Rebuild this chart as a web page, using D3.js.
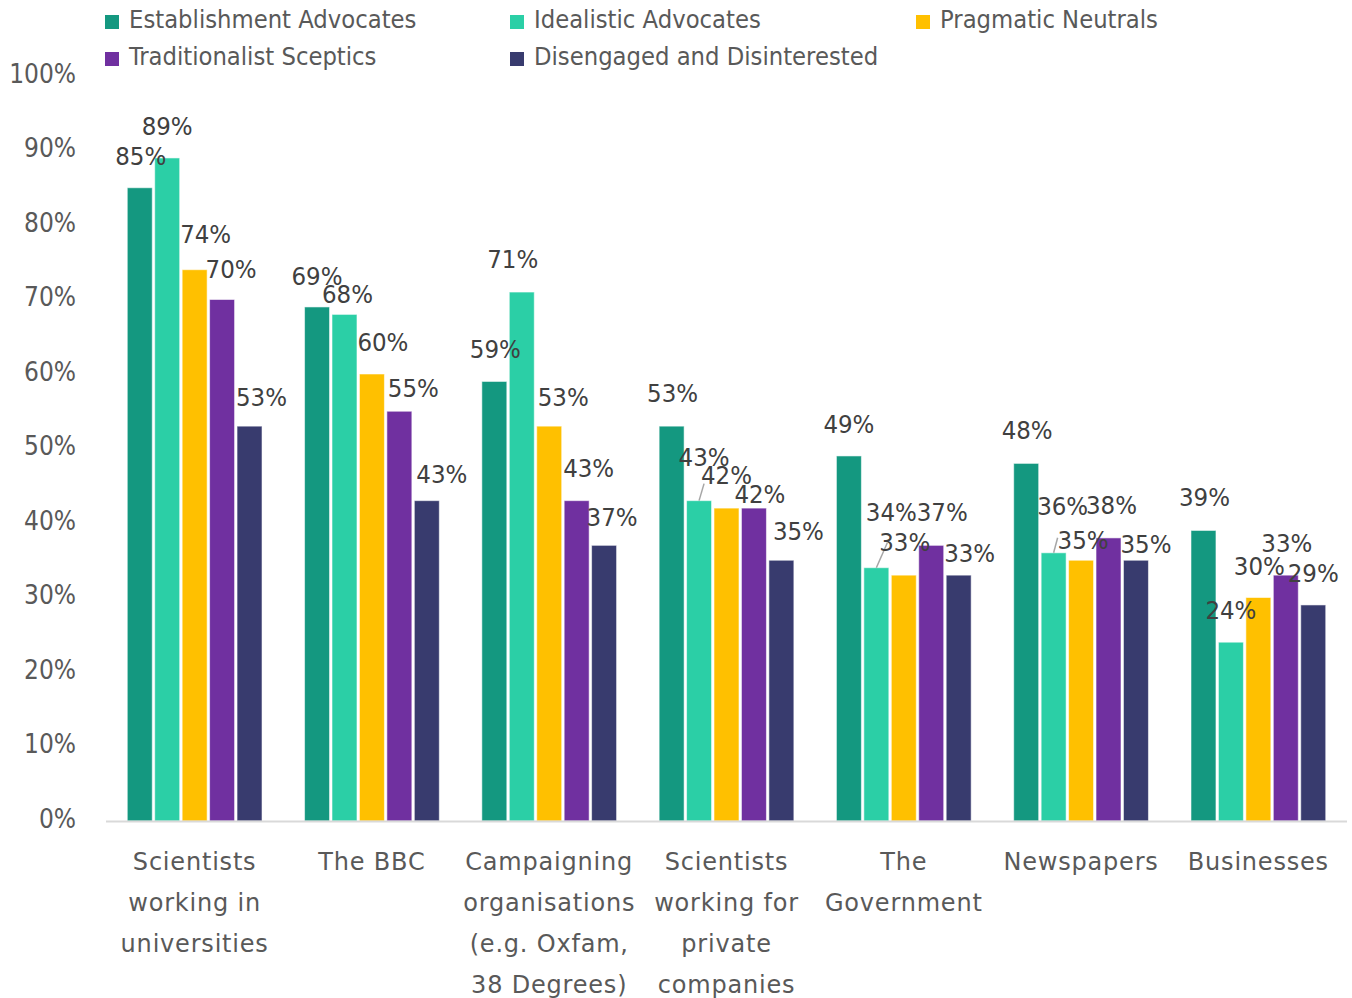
<!DOCTYPE html>
<html>
<head>
<meta charset="utf-8">
<script src="https://cdn.jsdelivr.net/npm/d3@7"></script>
<style>
  html, body { margin: 0; padding: 0; background: #fff; }
  svg { display: block; }
</style>
</head>
<body>
<svg id="chart" width="1352" height="998"></svg>
<script>
// Trust in sources of information, by audience segment
const categories = [
  ["Scientists", "working in", "universities"],
  ["The BBC"],
  ["Campaigning", "organisations", "(e.g. Oxfam,", "38 Degrees)"],
  ["Scientists", "working for", "private", "companies"],
  ["The", "Government"],
  ["Newspapers"],
  ["Businesses"]
];
const seriesNames = [
  "Establishment Advocates",
  "Idealistic Advocates",
  "Pragmatic Neutrals",
  "Traditionalist Sceptics",
  "Disengaged and Disinterested"
];
const establishment = [85, 69, 59, 53, 49, 48, 39];
const idealistic    = [89, 68, 71, 43, 34, 36, 24];
const pragmatic     = [74, 60, 53, 42, 33, 35, 30];
const traditional   = [70, 55, 43, 42, 37, 38, 33];
const disengaged    = [53, 43, 37, 35, 33, 35, 29];
const yTicks = [0, 10, 20, 30, 40, 50, 60, 70, 80, 90, 100];

const seriesValues = [establishment, idealistic, pragmatic, traditional, disengaged];
const colors = ["#149880", "#2BCFA6", "#FFC000", "#7030A0", "#383B6E"];

// Hand-placed label nudges (dx, dy) per category, per series
const labelNudge = [
  [[1, 1], [0, 1], [11, -3], [9, 2], [12, 4]],
  [[0, 2], [3, 13], [11, 1], [14, 10], [15, 6]],
  [[1, 1], [-9, 0], [14, 4], [12, 0], [8, 5]],
  [[1, 0], [5, -11], [0, 0], [6, 19], [17, 4]],
  [[0, 1], [15, -23], [1, 0], [11, 0], [11, 11]],
  [[1, 0], [9, -14], [2, 13], [3, 0], [10, 17]],
  [[1, 0], [0, 1], [1, 1], [1, 1], [0, 1]]
];
// Leader lines: [category, series, dx, dy] from the bar top
const leaders = [
  [3, 1, 5, -17],
  [4, 1, 11, -25],
  [5, 1, 4, -15]
];

const svg = d3.select("#chart");
const condensed = "'DejaVu Sans Condensed', 'DejaVu Sans', sans-serif";
const textGray = "#595959";

const x0 = d3.scaleBand()
  .domain(d3.range(categories.length))
  .range([106, 1347])
  .paddingInner(0.24)
  .paddingOuter(0.12);
const x1 = d3.scaleBand()
  .domain(d3.range(seriesNames.length))
  .range([0, x0.bandwidth()])
  .paddingInner(0.09);
const y = d3.scaleLinear().domain([0, 100]).range([821, 76]);

// Y axis labels
svg.append("g").selectAll("text")
  .data(yTicks)
  .join("text")
  .attr("x", 76)
  .attr("y", d => y(d) + 6.5)
  .attr("text-anchor", "end")
  .attr("font-family", condensed)
  .attr("font-size", 26)
  .attr("fill", textGray)
  .text(d => d + "%");

// Bars
const rows = [];
categories.forEach((c, ci) => {
  seriesValues.forEach((vals, si) => {
    rows.push({ ci, si, v: vals[ci] });
  });
});

svg.append("g").selectAll("rect")
  .data(rows)
  .join("rect")
  .attr("x", d => x0(d.ci) + x1(d.si))
  .attr("y", d => y(d.v))
  .attr("width", x1.bandwidth())
  .attr("height", d => y(0) - y(d.v))
  .attr("fill", d => colors[d.si])
  .attr("stroke", "#ffffff")
  .attr("stroke-opacity", 0.55)
  .attr("stroke-width", 1);

// Baseline
svg.append("line")
  .attr("x1", 106).attr("x2", 1347)
  .attr("y1", y(0) + 0.5).attr("y2", y(0) + 0.5)
  .attr("stroke", "#d9d9d9")
  .attr("stroke-width", 2);

// Leader lines
svg.append("g").selectAll("line")
  .data(leaders)
  .join("line")
  .attr("x1", d => x0(d[0]) + x1(d[1]) + x1.bandwidth() / 2)
  .attr("y1", d => y(seriesValues[d[1]][d[0]]))
  .attr("x2", d => x0(d[0]) + x1(d[1]) + x1.bandwidth() / 2 + d[2])
  .attr("y2", d => y(seriesValues[d[1]][d[0]]) + d[3])
  .attr("stroke", "#a6a6a6")
  .attr("stroke-width", 1.5);

// Value labels
svg.append("g").selectAll("text")
  .data(rows)
  .join("text")
  .attr("x", d => x0(d.ci) + x1(d.si) + x1.bandwidth() / 2 + labelNudge[d.ci][d.si][0])
  .attr("y", d => y(d.v) - 33 + labelNudge[d.ci][d.si][1] + 9)
  .attr("text-anchor", "middle")
  .attr("font-family", condensed)
  .attr("font-size", 25.5)
  .attr("fill", "#404040")
  .text(d => d.v + "%");

// Category labels
const catG = svg.append("g");
categories.forEach((lines, ci) => {
  const t = catG.append("text")
    .attr("text-anchor", "middle")
    .attr("font-family", "'DejaVu Sans', sans-serif")
    .attr("font-size", 24)
    .attr("letter-spacing", 0.8)
    .attr("fill", textGray);
  lines.forEach((ln, li) => {
    t.append("tspan")
      .attr("x", x0(ci) + x0.bandwidth() / 2)
      .attr("y", 870 + li * 41)
      .text(ln);
  });
});

// Legend
const legendPos = [[105, 15], [510, 15], [916, 15], [105, 52], [510, 52]];
const lg = svg.append("g").selectAll("g")
  .data(seriesNames)
  .join("g")
  .attr("transform", (d, i) => `translate(${legendPos[i][0]},${legendPos[i][1]})`);
lg.append("rect")
  .attr("width", 14).attr("height", 14)
  .attr("fill", (d, i) => colors[i]);
lg.append("text")
  .attr("x", 24)
  .attr("y", 13)
  .attr("font-family", condensed)
  .attr("font-size", 25.3)
  .attr("fill", textGray)
  .text(d => d);
</script>
</body>
</html>
